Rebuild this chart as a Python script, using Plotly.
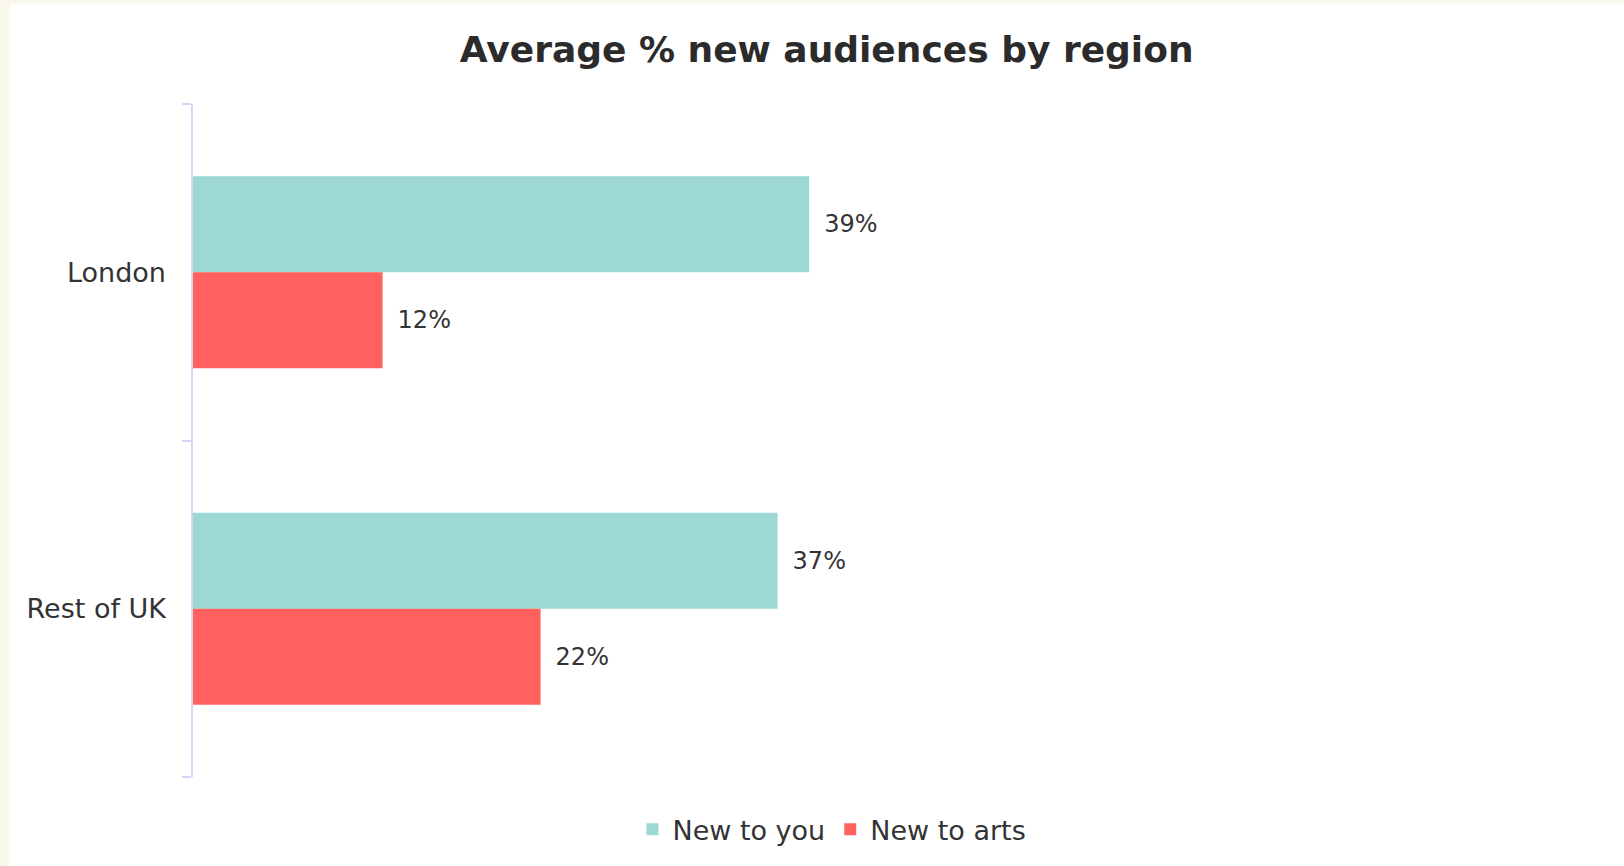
import plotly.graph_objects as go

REGIONS = ["London", "Rest of UK"]
NEW_TO_YOU = [39, 37]
NEW_TO_ARTS = [12, 22]
SERIES_NAMES = ["New to you", "New to arts"]
BOUNDARIES = [-0.5, 0.5, 1.5]  # category edges where the axis ticks sit

TEAL = "#9DD9D2"
RED = "#FF625E"
AXIS = "#D9D2F6"
TEXT = "#333333"
FONT = "DejaVu Sans, sans-serif"

fig = go.Figure()
for name, vals, col in [(SERIES_NAMES[0], NEW_TO_YOU, TEAL),
                        (SERIES_NAMES[1], NEW_TO_ARTS, RED)]:
    fig.add_trace(go.Bar(
        y=REGIONS, x=vals, name=name, orientation="h",
        marker=dict(color=col, line=dict(width=0)),
        text=["\u2002%d%%" % v for v in vals], textposition="outside",
        textfont=dict(size=24, color=TEXT, family=FONT),
        cliponaxis=False,
    ))
# empty trace so the overlay axis (line + boundary ticks) gets drawn
fig.add_trace(go.Scatter(x=[None], y=[None], yaxis="y2", showlegend=False,
                         hoverinfo="skip"))

fig.update_layout(
    width=1624, height=866,
    margin=dict(l=193, r=167, t=104, b=85),
    paper_bgcolor="#FAF8EC", plot_bgcolor="white",
    barmode="group", bargap=0.43, bargroupgap=0,
    font=dict(family=FONT, color=TEXT),
    title=dict(text="<b>Average % new audiences by region</b>",
               x=0.509, xanchor="center", y=0.943, yanchor="middle",
               font=dict(size=36, color="#2B2B2B", family=FONT)),
    legend=dict(orientation="h", x=0.5055, xanchor="center", y=-0.042,
                yanchor="top", font=dict(size=27, color=TEXT),
                bgcolor="white", itemwidth=30, traceorder="normal"),
    shapes=[dict(type="rect", xref="paper", yref="paper",
                 x0=-0.145, x1=1.2, y0=-0.2, y1=1.148,
                 fillcolor="white", line=dict(width=0), layer="below")],
)
fig.update_xaxes(range=[0, 80], visible=False, showgrid=False)
fig.update_yaxes(range=[1.5, -0.5], showline=False, ticks="",
                 showgrid=False, tickfont=dict(size=27, color=TEXT),
                 ticklabelstandoff=26)
fig.update_layout(yaxis2=dict(
    overlaying="y", side="left", anchor="x", range=[1.5, -0.5],
    tickvals=BOUNDARIES, showticklabels=False, showgrid=False,
    zeroline=False, showline=True, linecolor=AXIS, linewidth=2,
    ticks="outside", ticklen=9, tickcolor=AXIS, tickwidth=2))

fig.write_html("out.html", config={"displayModeBar": False},
               post_script="document.body.style.margin='0';")
